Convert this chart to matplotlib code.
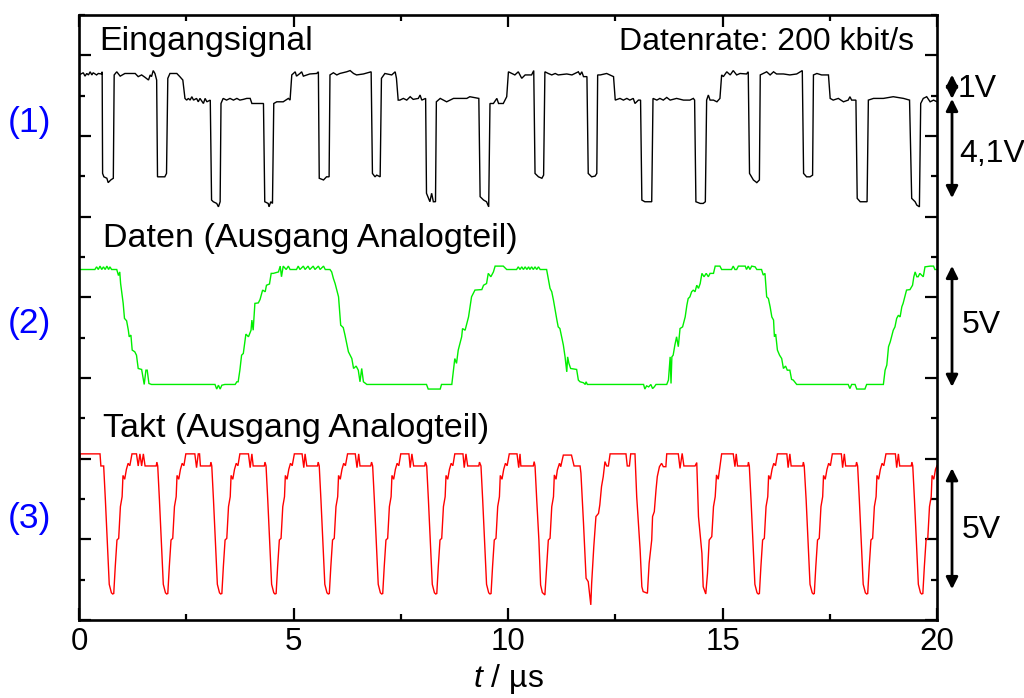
import numpy as np
import matplotlib
matplotlib.use("Agg")
import matplotlib.pyplot as plt
import matplotlib.transforms as mtransforms
from matplotlib.ticker import MultipleLocator, NullFormatter

plt.rcParams['font.family'] = ['Liberation Sans', 'DejaVu Sans']
plt.rcParams['mathtext.fontset'] = 'custom'
plt.rcParams['mathtext.rm'] = 'Liberation Sans'
plt.rcParams['mathtext.it'] = 'Liberation Sans:italic'

# ---- measured traces: (time in µs, voltage in V) ----
EINGANG = [
    (0.00, 5.24), (0.10, 5.33), (0.14, 5.19), (0.18, 5.30), (0.22, 5.24), (0.26, 5.37), (0.30, 5.24),
    (0.33, 5.33), (0.41, 5.24), (0.45, 5.30), (0.53, 5.28), (0.54, 5.37),
    (0.55, 1.17), (0.58, 1.03), (0.65, 0.97), (0.68, 0.79), (0.74, 0.90), (0.80, 0.97),
    (0.82, 5.24), (0.88, 5.37), (0.96, 5.19), (1.07, 5.30), (1.31, 5.30), (1.38, 5.17), (1.46, 5.24),
    (1.54, 5.14), (1.62, 5.03), (1.66, 5.24), (1.69, 5.17), (1.73, 5.42), (1.77, 5.30), (1.81, 5.03),
    (1.83, 1.03), (2.00, 1.03), (2.04, 1.17),
    (2.07, 5.10), (2.12, 5.30), (2.28, 5.30), (2.35, 5.17), (2.42, 5.03),
    (2.47, 4.27), (2.51, 4.20), (2.55, 4.27), (2.59, 4.20), (2.63, 4.34), (2.67, 4.20), (2.74, 4.27),
    (2.78, 4.13), (2.82, 4.27), (2.90, 4.06), (2.94, 4.27), (2.98, 4.13), (3.06, 4.20),
    (3.09, 0.07), (3.13, 0.00), (3.21, -0.07), (3.25, -0.21), (3.29, 0.00),
    (3.31, 4.06), (3.36, 4.27), (3.44, 4.20), (3.52, 4.27), (3.60, 4.20), (3.68, 4.27), (3.75, 4.20),
    (3.83, 4.23), (3.91, 4.27), (3.99, 4.27), (4.03, 4.06), (4.30, 4.06),
    (4.33, 0.00), (4.41, -0.07), (4.43, -0.21), (4.47, 0.00), (4.51, -0.07),
    (4.54, 4.06), (4.61, 4.13), (4.76, 4.13), (4.88, 4.27), (4.92, 4.20),
    (4.96, 5.24), (5.04, 5.37), (5.07, 5.19), (5.15, 5.30), (5.19, 5.37), (5.23, 5.19), (5.38, 5.28),
    (5.54, 5.30), (5.58, 5.37),
    (5.60, 0.97), (5.70, 0.90), (5.77, 1.03), (5.83, 1.03),
    (5.85, 5.24), (5.93, 5.33), (6.01, 5.24), (6.08, 5.30), (6.24, 5.37), (6.32, 5.42), (6.40, 5.30),
    (6.47, 5.24), (6.63, 5.28), (6.81, 5.37),
    (6.84, 1.17), (6.90, 1.03), (6.94, 1.10), (7.02, 1.03),
    (7.05, 5.10), (7.13, 5.30), (7.29, 5.24), (7.37, 5.37), (7.40, 5.10),
    (7.44, 4.20), (7.48, 4.20), (7.56, 4.27), (7.64, 4.20), (7.72, 4.34), (7.79, 4.23), (7.91, 4.27),
    (7.95, 4.41), (7.99, 4.20), (8.08, 4.27),
    (8.10, 0.35), (8.18, 0.00), (8.22, 0.35), (8.26, 0.00), (8.31, 0.00),
    (8.33, 4.13), (8.42, 4.27), (8.57, 4.13), (8.73, 4.27), (8.88, 4.27), (9.04, 4.27), (9.11, 4.34),
    (9.32, 4.27),
    (9.35, 0.21), (9.43, 0.07), (9.50, 0.00), (9.55, -0.21),
    (9.58, 4.06), (9.66, 4.06), (9.74, 4.27), (9.78, 4.06), (9.89, 4.06), (9.97, 4.34),
    (10.01, 5.37), (10.09, 5.30), (10.16, 5.24), (10.24, 5.37), (10.32, 5.10), (10.40, 5.24),
    (10.55, 5.24), (10.60, 5.42),
    (10.63, 1.17), (10.71, 1.03), (10.79, 0.97), (10.83, 1.10),
    (10.86, 5.37), (10.94, 5.30), (11.02, 5.24), (11.10, 5.30), (11.17, 5.24), (11.37, 5.28),
    (11.49, 5.24), (11.56, 5.30), (11.64, 5.37), (11.68, 5.24), (11.72, 5.37), (11.76, 5.17), (11.84, 5.17),
    (11.87, 1.17), (11.95, 1.03), (12.03, 1.06), (12.07, 1.17),
    (12.09, 5.24), (12.15, 5.24), (12.30, 5.30), (12.46, 5.17),
    (12.50, 4.20), (12.61, 4.27), (12.69, 4.20), (12.77, 4.27), (12.84, 4.20), (12.92, 4.27),
    (12.96, 4.06), (13.04, 4.20), (13.09, 4.20),
    (13.12, 0.07), (13.19, 0.00), (13.35, 0.00),
    (13.38, 4.27), (13.47, 4.20), (13.54, 4.27), (13.62, 4.20), (13.70, 4.31), (13.78, 4.20),
    (13.93, 4.27), (14.09, 4.20), (14.24, 4.20), (14.32, 4.27), (14.35, 4.20),
    (14.38, 0.00), (14.48, -0.07), (14.55, -0.07), (14.60, 0.00),
    (14.63, 4.20), (14.67, 4.41), (14.71, 4.20), (14.79, 4.20), (14.87, 4.13), (14.94, 4.27),
    (14.98, 5.24), (15.02, 5.17), (15.10, 5.37), (15.18, 5.24), (15.25, 5.42), (15.33, 5.24),
    (15.41, 5.30), (15.56, 5.28), (15.60, 5.37),
    (15.63, 1.17), (15.72, 0.90), (15.80, 0.79), (15.86, 0.90),
    (15.88, 5.24), (15.95, 5.30), (16.03, 5.37), (16.11, 5.24), (16.19, 5.37), (16.26, 5.28),
    (16.42, 5.28), (16.57, 5.24), (16.73, 5.28), (16.86, 5.42),
    (16.89, 1.17), (16.96, 1.03), (17.04, 1.03), (17.10, 1.10),
    (17.12, 5.24), (17.20, 5.30), (17.31, 5.24), (17.47, 5.24),
    (17.51, 4.27), (17.58, 4.20), (17.70, 4.27), (17.82, 4.13), (17.93, 4.20), (17.97, 4.34),
    (18.01, 4.20), (18.11, 4.20),
    (18.14, 0.14), (18.21, 0.00), (18.37, 0.00),
    (18.40, 4.20), (18.52, 4.27), (18.75, 4.27), (18.98, 4.34), (19.22, 4.27), (19.36, 4.20),
    (19.41, 0.14), (19.49, 0.00), (19.53, -0.14), (19.59, -0.21),
    (19.62, 4.06), (19.68, 4.27), (19.76, 4.34), (19.84, 4.13), (19.92, 4.20), (20.00, 4.13),
]

DATEN = [
    (0.00, 4.75), (0.37, 4.75), (0.41, 4.86), (0.45, 4.75), (0.49, 4.89), (0.53, 4.75), (0.57, 4.86),
    (0.61, 4.75), (0.65, 4.89), (0.69, 4.75), (0.72, 4.86), (0.76, 4.75), (0.88, 4.75),
    (0.92, 4.50), (0.95, 4.65), (0.97, 4.17), (1.03, 3.35), (1.06, 2.73), (1.11, 2.63), (1.15, 2.24),
    (1.17, 1.97), (1.21, 2.04), (1.24, 1.42), (1.30, 1.35), (1.34, 1.21), (1.38, 0.66), (1.46, 0.62),
    (1.52, 0.00), (1.56, 0.59), (1.59, 0.59), (1.63, 0.04), (1.69, 0.00),
    (3.17, 0.00), (3.21, -0.19), (3.25, -0.03), (3.29, -0.19), (3.33, -0.03), (3.40, 0.00),
    (3.64, 0.00), (3.68, 0.11), (3.71, 0.11), (3.75, 0.59), (3.79, 1.21), (3.83, 1.28), (3.89, 2.08),
    (3.95, 1.97), (4.01, 2.24), (4.03, 2.66), (4.06, 2.24), (4.10, 3.35), (4.18, 3.37), (4.22, 3.51),
    (4.28, 3.90), (4.34, 3.83), (4.37, 4.10), (4.44, 4.15), (4.48, 4.59), (4.53, 4.59), (4.65, 4.65),
    (4.69, 4.89), (4.72, 4.45), (4.76, 4.89), (4.83, 4.75), (4.88, 4.89), (4.92, 4.75),
    (5.07, 4.75), (5.11, 4.89), (5.15, 4.75), (5.23, 4.89), (5.27, 4.75), (5.34, 4.89), (5.38, 4.75),
    (5.46, 4.89), (5.50, 4.75), (5.58, 4.89), (5.62, 4.75), (5.70, 4.89), (5.74, 4.75), (5.85, 4.75),
    (5.89, 4.65), (5.93, 4.38), (5.97, 4.17), (6.01, 3.90), (6.05, 3.62), (6.10, 2.45), (6.16, 2.35),
    (6.20, 2.04), (6.28, 1.35), (6.32, 1.21), (6.36, 1.07), (6.40, 0.66), (6.46, 0.76), (6.51, 0.59),
    (6.55, 0.11), (6.59, 0.66), (6.63, 0.11), (6.71, 0.00),
    (8.10, 0.00), (8.14, -0.19), (8.42, -0.19), (8.45, 0.00),
    (8.69, 0.00), (8.73, 0.59), (8.76, 1.07), (8.80, 0.87), (8.84, 1.42), (8.92, 1.97), (8.94, 2.31),
    (9.00, 2.24), (9.08, 2.79), (9.15, 3.62), (9.23, 3.90), (9.39, 3.92), (9.43, 4.10), (9.50, 4.17),
    (9.54, 4.59), (9.60, 4.45), (9.66, 4.65), (9.70, 4.89), (9.89, 4.89), (9.97, 4.75), (10.20, 4.75),
    (10.24, 4.86), (10.28, 4.75), (10.32, 4.86), (10.36, 4.75), (10.40, 4.86), (10.44, 4.75),
    (10.48, 4.86), (10.51, 4.75), (10.55, 4.86), (10.59, 4.75), (10.63, 4.86), (10.67, 4.75),
    (10.71, 4.86), (10.75, 4.75), (10.90, 4.75),
    (10.93, 4.45), (10.98, 3.97), (11.02, 3.83), (11.06, 3.48), (11.10, 3.07), (11.14, 2.66),
    (11.17, 2.38), (11.21, 2.31), (11.25, 1.97), (11.29, 1.63), (11.33, 1.14), (11.37, 0.52),
    (11.39, 1.14), (11.42, 0.87), (11.46, 0.66), (11.60, 0.62), (11.64, 0.18), (11.68, 0.11),
    (11.76, 0.07), (11.80, 0.00), (11.82, 0.11), (11.85, 0.00),
    (13.16, 0.00), (13.19, -0.19), (13.23, -0.06), (13.28, -0.10), (13.33, 0.00), (13.37, -0.17),
    (13.41, -0.10), (13.45, 0.00), (13.70, 0.00),
    (13.74, 0.18), (13.78, 1.14), (13.80, 0.04), (13.82, 1.14), (13.85, 1.21), (13.89, 1.63),
    (13.93, 1.97), (13.97, 1.56), (14.01, 2.31), (14.07, 2.38), (14.13, 2.79), (14.17, 3.28),
    (14.20, 3.55), (14.24, 3.62), (14.28, 3.83), (14.32, 3.90), (14.36, 3.83), (14.40, 4.10),
    (14.44, 3.97), (14.48, 4.17), (14.52, 4.59), (14.57, 4.45), (14.62, 4.59), (14.67, 4.45),
    (14.71, 4.59), (14.79, 4.59), (14.83, 4.89), (14.94, 4.89), (14.98, 4.75), (15.21, 4.75),
    (15.25, 4.89), (15.29, 4.75), (15.33, 4.75), (15.37, 4.89), (15.53, 4.89), (15.56, 4.75),
    (15.60, 4.89), (15.64, 4.75), (15.68, 4.89), (15.76, 4.86), (15.80, 4.75), (15.91, 4.75),
    (15.95, 4.52), (15.99, 4.59), (16.03, 3.62), (16.07, 3.55), (16.11, 3.21), (16.15, 2.79),
    (16.19, 2.66), (16.21, 1.97), (16.24, 2.08), (16.28, 1.42), (16.33, 1.21), (16.38, 1.07),
    (16.42, 0.66), (16.47, 0.76), (16.51, 0.59), (16.57, 0.59), (16.61, 0.21), (16.65, 0.18),
    (16.73, 0.00),
    (17.93, 0.00), (17.97, -0.17), (18.01, 0.00), (18.09, 0.00), (18.13, -0.19), (18.32, -0.19),
    (18.36, 0.00), (18.75, 0.00),
    (18.79, 0.59), (18.83, 0.80), (18.87, 1.56), (18.91, 1.76), (18.94, 1.97), (18.98, 2.24),
    (19.02, 2.38), (19.06, 2.73), (19.10, 2.86), (19.14, 2.79), (19.18, 3.21), (19.21, 3.35),
    (19.25, 3.62), (19.29, 3.90), (19.37, 3.92), (19.43, 4.10), (19.46, 4.45), (19.49, 4.65),
    (19.53, 4.45), (19.56, 4.45), (19.60, 4.59), (19.64, 4.52), (19.68, 4.45), (19.72, 4.86),
    (19.84, 4.89), (19.92, 4.89), (19.95, 4.75), (20.00, 4.75),
]

TAKT = [
    (0.00, 5.29), (0.03, 5.79), (0.49, 5.79), (0.51, 5.29), (0.575, 5.29),
    (0.615, 3.88), (0.705, 0.40), (0.755, 0.05), (0.785, 0.00), (0.81, 0.02), (0.845, 1.13),
    (0.885, 2.23), (0.925, 2.30), (0.965, 3.61), (1.005, 4.02), (1.025, 4.90), (1.065, 4.74),
    (1.105, 5.15), (1.145, 5.40), (1.185, 5.30), (1.235, 5.79),
    (1.34, 5.79), (1.38, 5.29), (1.42, 5.79), (1.46, 5.29), (1.50, 5.79), (1.54, 5.29), (1.80, 5.29),
    (1.815, 5.45), (1.835, 5.29),
    (1.875, 3.88), (1.965, 0.40), (2.015, 0.05), (2.044, 0.00), (2.07, 0.02), (2.105, 1.13),
    (2.145, 2.23), (2.185, 2.30), (2.225, 3.61), (2.265, 4.02), (2.285, 4.90), (2.325, 4.74),
    (2.365, 5.15), (2.405, 5.40), (2.445, 5.30), (2.49, 5.79),
    (2.70, 5.79), (2.74, 5.22), (2.78, 5.79), (2.81, 5.79), (2.83, 5.29), (3.06, 5.29), (3.075, 5.45),
    (3.095, 5.29),
    (3.135, 3.88), (3.225, 0.40), (3.275, 0.05), (3.303, 0.00), (3.33, 0.02), (3.365, 1.13),
    (3.405, 2.23), (3.445, 2.30), (3.485, 3.61), (3.525, 4.02), (3.545, 4.90), (3.585, 4.74),
    (3.625, 5.15), (3.665, 5.40), (3.705, 5.30), (3.75, 5.79),
    (3.95, 5.79), (3.99, 5.22), (4.03, 5.79), (4.06, 5.29), (4.32, 5.29), (4.335, 5.45), (4.36, 5.29),
    (4.40, 3.88), (4.49, 0.40), (4.54, 0.05), (4.569, 0.00), (4.595, 0.02), (4.63, 1.13),
    (4.67, 2.23), (4.71, 2.30), (4.75, 3.61), (4.79, 4.02), (4.81, 4.90), (4.85, 4.74),
    (4.89, 5.15), (4.93, 5.40), (4.97, 5.30), (5.02, 5.79),
    (5.20, 5.79), (5.24, 5.22), (5.27, 5.79), (5.31, 5.29), (5.56, 5.29), (5.575, 5.45), (5.60, 5.29),
    (5.64, 3.88), (5.73, 0.40), (5.78, 0.05), (5.811, 0.00), (5.835, 0.02), (5.87, 1.13),
    (5.91, 2.23), (5.95, 2.30), (5.99, 3.61), (6.03, 4.02), (6.05, 4.90), (6.09, 4.74),
    (6.13, 5.15), (6.17, 5.40), (6.21, 5.30), (6.26, 5.79),
    (6.44, 5.79), (6.48, 5.22), (6.52, 5.79), (6.55, 5.29), (6.80, 5.29), (6.82, 5.45), (6.845, 5.29),
    (6.885, 3.88), (6.975, 0.40), (7.025, 0.05), (7.056, 0.00), (7.08, 0.02), (7.115, 1.13),
    (7.155, 2.23), (7.195, 2.30), (7.235, 3.61), (7.275, 4.02), (7.295, 4.90), (7.335, 4.74),
    (7.375, 5.15), (7.415, 5.40), (7.455, 5.30), (7.50, 5.79),
    (7.69, 5.79), (7.72, 5.22), (7.76, 5.79), (7.80, 5.29), (8.06, 5.29), (8.075, 5.45), (8.105, 5.29),
    (8.145, 3.88), (8.235, 0.40), (8.285, 0.05), (8.315, 0.00), (8.34, 0.02), (8.375, 1.13),
    (8.415, 2.23), (8.455, 2.30), (8.495, 3.61), (8.535, 4.02), (8.555, 4.90), (8.595, 4.74),
    (8.635, 5.15), (8.675, 5.40), (8.715, 5.30), (8.76, 5.79),
    (8.95, 5.79), (8.98, 5.22), (9.02, 5.79), (9.06, 5.29), (9.32, 5.29), (9.335, 5.45), (9.37, 5.29),
    (9.41, 3.88), (9.50, 0.40), (9.55, 0.05), (9.58, 0.00), (9.605, 0.02), (9.64, 1.13),
    (9.68, 2.23), (9.72, 2.30), (9.76, 3.61), (9.80, 4.02), (9.82, 4.90), (9.86, 4.74),
    (9.90, 5.15), (9.94, 5.40), (9.98, 5.30), (10.03, 5.79),
    (10.21, 5.79), (10.25, 5.22), (10.28, 5.79), (10.30, 5.29), (10.59, 5.29), (10.61, 5.47),
    (10.63, 5.29),
    (10.67, 3.88), (10.72, 2.23), (10.76, 0.37), (10.80, 0.06), (10.86, -0.04), (10.90, 1.13),
    (10.94, 2.23), (10.98, 2.30), (11.02, 3.61), (11.06, 4.02), (11.08, 4.92), (11.12, 4.74),
    (11.15, 5.12), (11.20, 5.40), (11.23, 5.26), (11.25, 5.43), (11.29, 5.74),
    (11.48, 5.74), (11.54, 5.29), (11.68, 5.29),
    (11.70, 4.99), (11.76, 2.92), (11.82, 0.65), (11.87, 0.51), (11.93, -0.45), (11.95, 0.44),
    (12.00, 1.96), (12.05, 3.20), (12.11, 3.33), (12.14, 3.68), (12.18, 4.44), (12.22, 4.85),
    (12.26, 5.47), (12.30, 5.29), (12.34, 5.29), (12.38, 5.79),
    (12.75, 5.79), (12.78, 5.29), (12.83, 5.29), (12.86, 5.79), (12.96, 5.79),
    (13.00, 4.02), (13.08, 1.82), (13.12, 0.30), (13.15, 0.10), (13.25, 0.03), (13.29, 1.27),
    (13.35, 2.23), (13.37, 3.20), (13.41, 3.40), (13.45, 4.30), (13.48, 4.85), (13.53, 5.26),
    (13.58, 5.40), (13.62, 5.26), (13.68, 5.26), (13.70, 5.79),
    (13.97, 5.79), (14.01, 5.19), (14.06, 5.81), (14.10, 5.29), (14.36, 5.29), (14.40, 5.43),
    (14.44, 3.20), (14.52, 1.68), (14.55, 0.30), (14.61, 0.00), (14.65, 0.85), (14.69, 2.23),
    (14.75, 2.37), (14.79, 3.61), (14.83, 4.02), (14.86, 4.92), (14.90, 4.74), (14.94, 5.26),
    (14.98, 5.79),
    (15.25, 5.79), (15.29, 5.26), (15.32, 5.79), (15.35, 5.29), (15.59, 5.29), (15.605, 5.45),
    (15.625, 5.29),
    (15.665, 3.88), (15.755, 0.40), (15.805, 0.05), (15.834, 0.00), (15.86, 0.02), (15.895, 1.13),
    (15.935, 2.23), (15.975, 2.30), (16.015, 3.61), (16.055, 4.02), (16.075, 4.90), (16.115, 4.74),
    (16.155, 5.15), (16.195, 5.40), (16.235, 5.30), (16.28, 5.79),
    (16.50, 5.79), (16.53, 5.22), (16.57, 5.79), (16.60, 5.29), (16.87, 5.29), (16.885, 5.45),
    (16.905, 5.29),
    (16.95, 3.88), (17.04, 0.40), (17.09, 0.05), (17.117, 0.00), (17.14, 0.02), (17.175, 1.13),
    (17.215, 2.23), (17.255, 2.30), (17.295, 3.61), (17.335, 4.02), (17.355, 4.90), (17.395, 4.74),
    (17.435, 5.15), (17.475, 5.40), (17.515, 5.30), (17.56, 5.79),
    (17.77, 5.79), (17.80, 5.22), (17.84, 5.79), (17.87, 5.29), (18.11, 5.29), (18.125, 5.45),
    (18.15, 5.29),
    (18.19, 3.88), (18.28, 0.40), (18.33, 0.05), (18.361, 0.00), (18.385, 0.02), (18.42, 1.13),
    (18.46, 2.23), (18.50, 2.30), (18.54, 3.61), (18.58, 4.02), (18.60, 4.90), (18.64, 4.74),
    (18.68, 5.15), (18.72, 5.40), (18.76, 5.30), (18.81, 5.79),
    (19.03, 5.79), (19.06, 5.22), (19.10, 5.79), (19.13, 5.29), (19.40, 5.29), (19.415, 5.45),
    (19.435, 5.29),
    (19.475, 3.88), (19.565, 0.40), (19.615, 0.05), (19.643, 0.00), (19.67, 0.02), (19.705, 1.13),
    (19.745, 2.23), (19.785, 2.30), (19.825, 3.61), (19.865, 4.02), (19.885, 4.90), (19.925, 4.74),
    (19.965, 5.15), (20.00, 5.30),
]

X_TICKS = [0, 5, 10, 15, 20]

# stacking of the three channels: baseline (grid units) and grid units per volt
GAIN = 0.6
BASE = {"eingang": 10.37, "daten": 5.84, "takt": 0.645}
COLORS = {"eingang": "black", "daten": "#00ee00", "takt": "#ff0000"}

FS = 23
FS_HEAD = 24.5
FS_NUM = 25.5


def to_grid(channel, volts):
    return BASE[channel] + GAIN * np.asarray(volts)


fig = plt.figure(figsize=(10.24, 6.98), dpi=100)
ax = fig.add_axes([79 / 1024, 1 - 620 / 698, 858 / 1024, 605 / 698])

for name, trace in (("eingang", EINGANG), ("daten", DATEN), ("takt", TAKT)):
    t, v = np.array(trace).T
    ax.plot(t, to_grid(name, v), color=COLORS[name], lw=1.0, solid_joinstyle="miter")

ax.set_xlim(0, 20)
ax.set_ylim(0, 15)
ax.set_xticks(X_TICKS)
ax.set_xticklabels([str(x) for x in X_TICKS])
ax.xaxis.set_minor_locator(MultipleLocator(2.5))
ax.yaxis.set_major_locator(MultipleLocator(2))
ax.yaxis.set_minor_locator(MultipleLocator(1))
ax.yaxis.set_major_formatter(NullFormatter())

for s in ax.spines.values():
    s.set_linewidth(1.9)
ax.tick_params(which="both", direction="in", top=True, right=True, width=1.6,
               labelsize=22.5, pad=5)
ax.tick_params(which="major", length=8.5)
ax.tick_params(which="minor", length=4.5)

ax.set_xlabel(r"$t$ / µs", fontsize=FS, labelpad=4)

# channel headings
ax.text(0.47, 14.13, "Eingangsignal", fontsize=FS_HEAD, va="baseline", ha="left")
ax.text(19.46, 14.13, "Datenrate: 200 kbit/s", fontsize=FS, va="baseline", ha="right")
ax.text(0.55, 9.256, "Daten (Ausgang Analogteil)", fontsize=FS_HEAD, va="baseline", ha="left")
ax.text(0.55, 4.538, "Takt (Ausgang Analogteil)", fontsize=FS_HEAD, va="baseline", ha="left")

# channel numbers on the left
for label, ybase in (("(1)", 131.7), ("(2)", 333.3), ("(3)", 528.3)):
    fig.text(8 / 1024, 1 - ybase / 698, label, color="#0000ff", fontsize=FS_NUM,
             va="baseline", ha="left")

# amplitude markers to the right of the frame
side = mtransforms.blended_transform_factory(ax.transAxes, ax.transData)
arrow_kw = dict(arrowstyle="<|-|>,head_length=0.5,head_width=0.25", lw=2.0, color="black",
                shrinkA=0, shrinkB=0, mutation_scale=14)
ARROWS = [
    ("eingang", 4.25, 5.25, "1V", 4.31, 1.0245),
    ("eingang", 0.15, 4.25, "4,1V", 1.65, 1.0256),
    ("daten", -0.1, 4.9, "5V", 2.11, 1.0291),
    ("takt", 0.2, 5.2, "5V", 2.30, 1.0291),
]
for name, v0, v1, txt, vtxt, xtxt in ARROWS:
    ax.annotate("", xy=(1.0175, to_grid(name, v1)), xytext=(1.0175, to_grid(name, v0)),
                xycoords=side, textcoords=side, arrowprops=arrow_kw, annotation_clip=False)
    ax.text(xtxt, to_grid(name, vtxt), txt, transform=side, fontsize=FS, va="baseline", ha="left")

fig.savefig("out.png", dpi=100)
